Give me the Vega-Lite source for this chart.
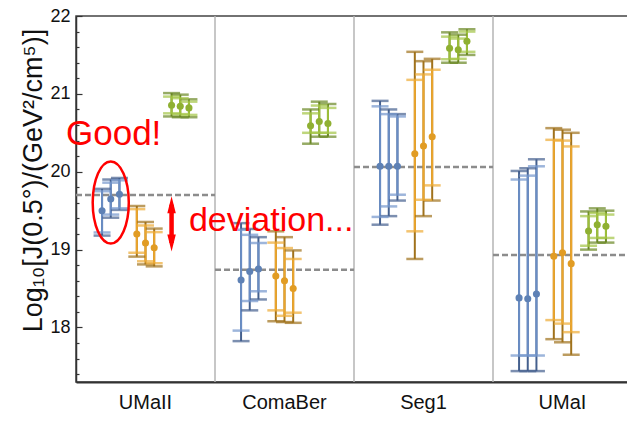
{
  "$schema": "https://vega.github.io/schema/vega-lite/v6.json",
  "width": 556,
  "height": 366,
  "autosize": "none",
  "padding": {"left": 76, "top": 16, "right": -5, "bottom": 58},
  "config": {
    "font": "Liberation Sans",
    "view": {"stroke": "#444444", "strokeWidth": 1.5}
  },
  "datasets": {
    "bars": [
      {"dwarf": "UMaII", "fit": "A", "slot": "A1", "lo2": 19.18, "lo1": 19.22, "J": 19.50, "hi1": 19.75, "hi2": 19.78},
      {"dwarf": "UMaII", "fit": "A", "slot": "A2", "lo2": 19.41, "lo1": 19.45, "J": 19.65, "hi1": 19.86, "hi2": 19.90},
      {"dwarf": "UMaII", "fit": "A", "slot": "A3", "lo2": 19.51, "lo1": 19.53, "J": 19.71, "hi1": 19.89, "hi2": 19.92},
      {"dwarf": "UMaII", "fit": "B", "slot": "B1", "lo2": 18.91, "lo1": 18.96, "J": 19.20, "hi1": 19.52, "hi2": 19.56},
      {"dwarf": "UMaII", "fit": "B", "slot": "B2", "lo2": 18.81, "lo1": 18.85, "J": 19.085, "hi1": 19.31, "hi2": 19.355},
      {"dwarf": "UMaII", "fit": "B", "slot": "B3", "lo2": 18.785, "lo1": 18.825, "J": 19.025, "hi1": 19.225, "hi2": 19.27},
      {"dwarf": "UMaII", "fit": "C", "slot": "C1", "lo2": 20.71, "lo1": 20.75, "J": 20.855, "hi1": 20.965, "hi2": 21.01},
      {"dwarf": "UMaII", "fit": "C", "slot": "C2", "lo2": 20.70, "lo1": 20.74, "J": 20.84, "hi1": 20.945, "hi2": 20.99},
      {"dwarf": "UMaII", "fit": "C", "slot": "C3", "lo2": 20.70, "lo1": 20.73, "J": 20.82, "hi1": 20.90, "hi2": 20.93},

      {"dwarf": "ComaBer", "fit": "A", "slot": "A1", "lo2": 17.825, "lo1": 17.96, "J": 18.61, "hi1": 19.255, "hi2": 19.34},
      {"dwarf": "ComaBer", "fit": "A", "slot": "A2", "lo2": 18.22, "lo1": 18.34, "J": 18.72, "hi1": 19.19, "hi2": 19.265},
      {"dwarf": "ComaBer", "fit": "A", "slot": "A3", "lo2": 18.36, "lo1": 18.465, "J": 18.75, "hi1": 19.085, "hi2": 19.16},
      {"dwarf": "ComaBer", "fit": "B", "slot": "B1", "lo2": 18.08, "lo1": 18.22, "J": 18.66, "hi1": 19.09, "hi2": 19.235},
      {"dwarf": "ComaBer", "fit": "B", "slot": "B2", "lo2": 18.07, "lo1": 18.15, "J": 18.60, "hi1": 19.02, "hi2": 19.16},
      {"dwarf": "ComaBer", "fit": "B", "slot": "B3", "lo2": 18.06, "lo1": 18.19, "J": 18.50, "hi1": 18.88, "hi2": 18.99},
      {"dwarf": "ComaBer", "fit": "C", "slot": "C1", "lo2": 20.36, "lo1": 20.50, "J": 20.59, "hi1": 20.75, "hi2": 20.80},
      {"dwarf": "ComaBer", "fit": "C", "slot": "C2", "lo2": 20.45, "lo1": 20.50, "J": 20.645, "hi1": 20.85, "hi2": 20.90},
      {"dwarf": "ComaBer", "fit": "C", "slot": "C3", "lo2": 20.45, "lo1": 20.50, "J": 20.62, "hi1": 20.82, "hi2": 20.87},

      {"dwarf": "Seg1", "fit": "A", "slot": "A1", "lo2": 19.32, "lo1": 19.42, "J": 20.07, "hi1": 20.84, "hi2": 20.91},
      {"dwarf": "Seg1", "fit": "A", "slot": "A2", "lo2": 19.43, "lo1": 19.555, "J": 20.07, "hi1": 20.74, "hi2": 20.80},
      {"dwarf": "Seg1", "fit": "A", "slot": "A3", "lo2": 19.63, "lo1": 19.705, "J": 20.07, "hi1": 20.71, "hi2": 20.74},
      {"dwarf": "Seg1", "fit": "B", "slot": "B1", "lo2": 18.88, "lo1": 19.235, "J": 20.23, "hi1": 21.18, "hi2": 21.54},
      {"dwarf": "Seg1", "fit": "B", "slot": "B2", "lo2": 19.43, "lo1": 19.64, "J": 20.33, "hi1": 21.25, "hi2": 21.42},
      {"dwarf": "Seg1", "fit": "B", "slot": "B3", "lo2": 19.63, "lo1": 19.825, "J": 20.45, "hi1": 21.31, "hi2": 21.45},
      {"dwarf": "Seg1", "fit": "C", "slot": "C1", "lo2": 21.40, "lo1": 21.445, "J": 21.585, "hi1": 21.735, "hi2": 21.79},
      {"dwarf": "Seg1", "fit": "C", "slot": "C2", "lo2": 21.40, "lo1": 21.45, "J": 21.565, "hi1": 21.71, "hi2": 21.76},
      {"dwarf": "Seg1", "fit": "C", "slot": "C3", "lo2": 21.50, "lo1": 21.54, "J": 21.675, "hi1": 21.80, "hi2": 21.83},

      {"dwarf": "UMaI", "fit": "A", "slot": "A1", "lo2": 17.44, "lo1": 17.64, "J": 18.38, "hi1": 19.90, "hi2": 20.01},
      {"dwarf": "UMaI", "fit": "A", "slot": "A2", "lo2": 17.44, "lo1": 17.64, "J": 18.37, "hi1": 19.95, "hi2": 20.045},
      {"dwarf": "UMaI", "fit": "A", "slot": "A3", "lo2": 17.44, "lo1": 17.64, "J": 18.43, "hi1": 20.07, "hi2": 20.16},
      {"dwarf": "UMaI", "fit": "B", "slot": "B1", "lo2": 17.85, "lo1": 18.095, "J": 18.915, "hi1": 20.41, "hi2": 20.56},
      {"dwarf": "UMaI", "fit": "B", "slot": "B2", "lo2": 17.81, "lo1": 18.05, "J": 18.96, "hi1": 20.40, "hi2": 20.54},
      {"dwarf": "UMaI", "fit": "B", "slot": "B3", "lo2": 17.65, "lo1": 17.94, "J": 18.82, "hi1": 20.325, "hi2": 20.50},
      {"dwarf": "UMaI", "fit": "C", "slot": "C1", "lo2": 19.00, "lo1": 19.05, "J": 19.24, "hi1": 19.43, "hi2": 19.49},
      {"dwarf": "UMaI", "fit": "C", "slot": "C2", "lo2": 19.09, "lo1": 19.15, "J": 19.32, "hi1": 19.47, "hi2": 19.53},
      {"dwarf": "UMaI", "fit": "C", "slot": "C3", "lo2": 19.09, "lo1": 19.15, "J": 19.30, "hi1": 19.45, "hi2": 19.50}
    ],
    "ref": [
      {"dwarf": "UMaII", "slot": "L", "J": 19.70},
      {"dwarf": "UMaII", "slot": "R", "J": 19.70},
      {"dwarf": "ComaBer", "slot": "L", "J": 18.74},
      {"dwarf": "ComaBer", "slot": "R", "J": 18.74},
      {"dwarf": "Seg1", "slot": "L", "J": 20.06},
      {"dwarf": "Seg1", "slot": "R", "J": 20.06},
      {"dwarf": "UMaI", "slot": "L", "J": 18.93},
      {"dwarf": "UMaI", "slot": "R", "J": 18.93}
    ],
    "panels": [
      {"dwarf": "ComaBer", "slot": "L"},
      {"dwarf": "Seg1", "slot": "L"},
      {"dwarf": "UMaI", "slot": "L"}
    ],
    "ring": [
      {"dwarf": "UMaII", "slot": "A2", "J": 19.605}
    ],
    "arrow": [
      {"dwarf": "UMaII", "slot": "C1", "J": 19.577, "head": "up"},
      {"dwarf": "UMaII", "slot": "C1", "J": 19.086, "head": "down"}
    ],
    "good": [
      {"dwarf": "UMaII", "slot": "L", "J": 20.346, "text": "Good!"}
    ],
    "deviation": [
      {"dwarf": "UMaII", "slot": "C3", "J": 19.235, "text": "deviation..."}
    ]
  },
  "encoding": {
    "x": {
      "field": "dwarf",
      "type": "nominal",
      "sort": ["UMaII", "ComaBer", "Seg1", "UMaI"],
      "scale": {"range": [0, 556], "paddingInner": 0, "paddingOuter": 0},
      "axis": {
        "title": null,
        "ticks": false,
        "labelAngle": 0,
        "labelFontSize": 20,
        "labelColor": "#111111",
        "labelPadding": 10,
        "domainColor": "#333333",
        "domainWidth": 2
      }
    },
    "xOffset": {
      "field": "slot",
      "type": "nominal",
      "scale": {
        "type": "point",
        "padding": 0,
        "domain": ["L", "s1", "s2", "A1", "A2", "A3", "s3", "B1", "B2", "B3", "s4", "C1", "C2", "C3", "s5", "s6", "R"],
        "range": [0, 139]
      }
    }
  },
  "resolve": {
    "scale": {"color": "independent", "shape": "independent"},
    "axis": {"y": "independent"}
  },
  "layer": [
    {
      "data": {"name": "panels"},
      "mark": {"type": "rule", "color": "#b4b4b4", "strokeWidth": 1.5},
      "encoding": {}
    },
    {
      "data": {"name": "ref"},
      "mark": {"type": "line", "color": "#8c8c8c", "strokeWidth": 2.5, "strokeDash": [6, 3]},
      "encoding": {
        "detail": {"field": "dwarf"},
        "y": {
          "field": "J",
          "type": "quantitative",
          "scale": {"domain": [17.3, 22], "nice": false, "zero": false},
          "axis": {
            "title": "Log₁₀[J(0.5°)/(GeV²/cm⁵)]",
            "titleFontSize": 27,
            "titleFontWeight": "normal",
            "titleColor": "#111111",
            "titleY": 164,
            "titlePadding": 2,
            "values": [18, 19, 20, 21, 22],
            "format": "d",
            "labelFontSize": 18,
            "labelColor": "#111111",
            "labelPadding": 12,
            "tickSize": -6,
            "tickColor": "#333333",
            "tickWidth": 1.2,
            "domainColor": "#333333",
            "domainWidth": 1.5,
            "grid": false
          }
        }
      }
    },
    {
      "data": {"name": "bars"},
      "mark": {"type": "rule", "strokeWidth": 2},
      "encoding": {
        "y": {"field": "lo2", "type": "quantitative", "axis": null},
        "y2": {"field": "hi2"},
        "color": {"field": "fit", "type": "nominal", "legend": null,
          "scale": {"domain": ["A", "B", "C"], "range": ["#45608e", "#a0721c", "#6a8724"]}}
      }
    },
    {
      "data": {"name": "bars"},
      "mark": {"type": "rule", "strokeWidth": 2},
      "encoding": {
        "y": {"field": "lo1", "type": "quantitative", "axis": null},
        "y2": {"field": "hi1"},
        "color": {"field": "fit", "type": "nominal", "legend": null,
          "scale": {"domain": ["A", "B", "C"], "range": ["#6a8dc4", "#eba52c", "#9dbf3a"]}}
      }
    },
    {
      "data": {"name": "bars"},
      "mark": {"type": "tick", "orient": "horizontal", "size": 17, "thickness": 2.5},
      "encoding": {
        "y": {"field": "lo2", "type": "quantitative", "axis": null},
        "color": {"field": "fit", "type": "nominal", "legend": null,
          "scale": {"domain": ["A", "B", "C"], "range": ["#45608e", "#a0721c", "#6a8724"]}}
      }
    },
    {
      "data": {"name": "bars"},
      "mark": {"type": "tick", "orient": "horizontal", "size": 17, "thickness": 2.5},
      "encoding": {
        "y": {"field": "hi2", "type": "quantitative", "axis": null},
        "color": {"field": "fit", "type": "nominal", "legend": null,
          "scale": {"domain": ["A", "B", "C"], "range": ["#45608e", "#a0721c", "#6a8724"]}}
      }
    },
    {
      "data": {"name": "bars"},
      "mark": {"type": "tick", "orient": "horizontal", "size": 17, "thickness": 2.5},
      "encoding": {
        "y": {"field": "lo1", "type": "quantitative", "axis": null},
        "color": {"field": "fit", "type": "nominal", "legend": null,
          "scale": {"domain": ["A", "B", "C"], "range": ["#7396cc", "#eeab34", "#a3c444"]}}
      }
    },
    {
      "data": {"name": "bars"},
      "mark": {"type": "tick", "orient": "horizontal", "size": 17, "thickness": 2.5},
      "encoding": {
        "y": {"field": "hi1", "type": "quantitative", "axis": null},
        "color": {"field": "fit", "type": "nominal", "legend": null,
          "scale": {"domain": ["A", "B", "C"], "range": ["#7396cc", "#eeab34", "#a3c444"]}}
      }
    },
    {
      "data": {"name": "bars"},
      "mark": {"type": "circle", "size": 50, "opacity": 1},
      "encoding": {
        "y": {
          "field": "J",
          "type": "quantitative",
          "axis": {
            "orient": "left",
            "title": null,
            "labels": false,
            "domain": false,
            "grid": false,
            "values": [17.4, 17.6, 17.8, 18.2, 18.4, 18.6, 18.8, 19.2, 19.4, 19.6, 19.8, 20.2, 20.4, 20.6, 20.8, 21.2, 21.4, 21.6, 21.8],
            "tickSize": -3,
            "tickColor": "#333333",
            "tickWidth": 1.2
          }
        },
        "color": {"field": "fit", "type": "nominal", "legend": null,
          "scale": {"domain": ["A", "B", "C"], "range": ["#5e81b5", "#e19c24", "#8fb032"]}}
      }
    },
    {
      "data": {"name": "ring"},
      "mark": {"type": "point", "filled": false, "color": "#ff0000", "strokeWidth": 2.5, "opacity": 1, "size": 6724,
        "shape": "M0,-1A0.44,1,0,1,1,0,1A0.44,1,0,1,1,0,-1Z"},
      "encoding": {
        "y": {"field": "J", "type": "quantitative", "axis": null}
      }
    },
    {
      "data": {"name": "arrow"},
      "mark": {"type": "line", "color": "#ff0000", "strokeWidth": 4.5},
      "encoding": {
        "y": {"field": "J", "type": "quantitative", "axis": null}
      }
    },
    {
      "data": {"name": "arrow"},
      "mark": {"type": "point", "filled": true, "color": "#ff0000", "opacity": 1, "size": 289},
      "encoding": {
        "y": {"field": "J", "type": "quantitative", "axis": null},
        "shape": {"field": "head", "type": "nominal", "legend": null,
          "scale": {"domain": ["up", "down"], "range": ["M0,-1L0.5,1L-0.5,1Z", "M0,1L0.5,-1L-0.5,-1Z"]}}
      }
    },
    {
      "data": {"name": "good"},
      "mark": {"type": "text", "align": "left", "baseline": "alphabetic", "fontSize": 35, "color": "#ff0000", "dx": -10},
      "encoding": {
        "y": {"field": "J", "type": "quantitative", "axis": null},
        "text": {"field": "text"}
      }
    },
    {
      "data": {"name": "deviation"},
      "mark": {"type": "text", "align": "left", "baseline": "alphabetic", "fontSize": 34, "color": "#ff0000"},
      "encoding": {
        "y": {"field": "J", "type": "quantitative", "axis": null},
        "text": {"field": "text"}
      }
    }
  ]
}
